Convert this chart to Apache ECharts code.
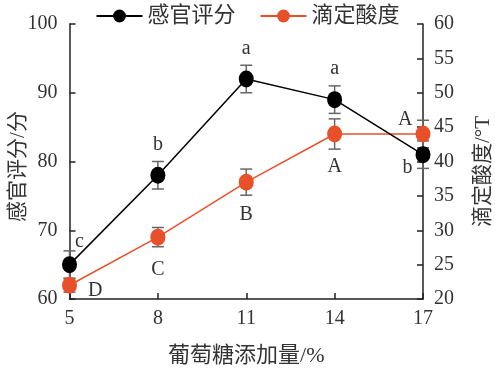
<!DOCTYPE html>
<html><head><meta charset="utf-8">
<script src="https://cdn.jsdelivr.net/npm/echarts@6/dist/echarts.min.js"></script>
<style>html,body{margin:0;padding:0;background:#fff}#c{width:495px;height:368px}</style>
</head><body><div id="c"></div>
<script>
const categories = [5, 8, 11, 14, 17];
const sensory = [65, 78, 92, 89, 81];
const sensoryErr = [2, 2, 2, 2, 2];
const sensoryLetters = ['c', 'b', 'a', 'a', 'b'];
const acidity = [22, 29, 37, 44, 44];
const acidityErr = [1, 1.4, 1.9, 2.2, 2];
const acidityLetters = ['D', 'C', 'B', 'A', 'A'];
const seriesNames = ['感官评分', '滴定酸度'];

const serif = '"Liberation Serif","Times New Roman",serif';
const cjk = '"Liberation Serif","Noto Sans CJK SC",serif';
const txt = '#333';
const orange = '#e8502a';

const sensoryLabelPos = [
  {position: 'top', offset: [10, 1]},
  {position: 'top', distance: 12},
  {position: 'top', distance: 12},
  {position: 'top', distance: 12},
  {position: 'left', offset: [2, 13]}
];
const acidityLabelPos = [
  {position: 'right', offset: [6, 5]},
  {position: 'bottom', distance: 14},
  {position: 'bottom', distance: 14},
  {position: 'bottom', distance: 14},
  {position: 'left', offset: [2, -14]}
];

function lineData(vals, letters, pos) {
  return vals.map((v, i) => ({
    value: [categories[i], v],
    label: Object.assign({show: true, formatter: letters[i]}, pos[i])
  }));
}
function errData(vals, errs) {
  return vals.map((v, i) => [categories[i], v - errs[i], v + errs[i]]);
}
function errRender(params, api) {
  const x = api.value(0);
  const lo = api.coord([x, api.value(1)]);
  const hi = api.coord([x, api.value(2)]);
  const w = 6;
  const st = {stroke: '#666', lineWidth: 1.5};
  return {type: 'group', children: [
    {type: 'line', shape: {x1: lo[0], y1: lo[1], x2: hi[0], y2: hi[1]}, style: st},
    {type: 'line', shape: {x1: lo[0]-w, y1: lo[1], x2: lo[0]+w, y2: lo[1]}, style: st},
    {type: 'line', shape: {x1: hi[0]-w, y1: hi[1], x2: hi[0]+w, y2: hi[1]}, style: st}
  ]};
}

const chart = echarts.init(document.getElementById('c'));
chart.setOption({
  animation: false,
  legend: {
    top: 0, left: 'center', itemWidth: 46, itemHeight: 16, itemGap: 24,
    textStyle: {fontFamily: cjk, fontSize: 22, color: txt},
    data: seriesNames
  },
  grid: {left: 69.5, right: 72, top: 24, bottom: 69, containLabel: false, outerBoundsMode: 'none'},
  xAxis: {
    type: 'value', min: 5, max: 17, interval: 3,
    name: '葡萄糖添加量/%', nameLocation: 'middle', nameGap: 46, nameMoveOverlap: false,
    nameTextStyle: {fontFamily: cjk, fontSize: 22, color: txt},
    axisLine: {lineStyle: {color: '#222', width: 1.5}},
    axisTick: {inside: true, length: 6, lineStyle: {color: '#222', width: 1.5}},
    axisLabel: {fontFamily: serif, fontSize: 20, color: txt, margin: 10},
    splitLine: {show: false}
  },
  yAxis: [{
    type: 'value', min: 60, max: 100, interval: 10,
    name: '感官评分/分', nameLocation: 'middle', nameGap: 41, nameMoveOverlap: false,
    nameTextStyle: {fontFamily: cjk, fontSize: 21, color: txt, padding: [0, 10, 0, 0]},
    axisLine: {show: true, lineStyle: {color: '#222', width: 1.5}},
    axisTick: {show: true, inside: true, length: 6, lineStyle: {color: '#222', width: 1.5}},
    axisLabel: {fontFamily: serif, fontSize: 20, color: txt, margin: 12},
    splitLine: {show: false}
  }, {
    type: 'value', min: 20, max: 60, interval: 5, position: 'right',
    name: '滴定酸度/°T', nameLocation: 'middle', nameGap: 50, nameRotate: 90, nameMoveOverlap: false,
    nameTextStyle: {fontFamily: cjk, fontSize: 21, color: txt, padding: [0, 20, 0, 0]},
    axisLine: {show: true, lineStyle: {color: '#222', width: 1.5}},
    axisTick: {show: true, inside: true, length: 6, lineStyle: {color: '#222', width: 1.5}},
    axisLabel: {fontFamily: serif, fontSize: 20, color: txt, margin: 11},
    splitLine: {show: false}
  }],
  series: [{
    name: seriesNames[0], type: 'line', yAxisIndex: 0, z: 5,
    symbol: 'circle', symbolSize: [15, 17],
    itemStyle: {color: '#000'}, lineStyle: {color: '#000', width: 1.5},
    label: {fontFamily: serif, fontSize: 20, color: txt},
    data: lineData(sensory, sensoryLetters, sensoryLabelPos)
  }, {
    name: seriesNames[1], type: 'line', yAxisIndex: 1, z: 4,
    symbol: 'circle', symbolSize: [15, 17],
    itemStyle: {color: orange}, lineStyle: {color: orange, width: 1.5},
    label: {fontFamily: serif, fontSize: 20, color: txt},
    data: lineData(acidity, acidityLetters, acidityLabelPos)
  }, {
    type: 'custom', yAxisIndex: 0, z: 2, renderItem: errRender,
    encode: {x: 0, y: [1, 2]}, data: errData(sensory, sensoryErr)
  }, {
    type: 'custom', yAxisIndex: 1, z: 2, renderItem: errRender,
    encode: {x: 0, y: [1, 2]}, data: errData(acidity, acidityErr)
  }]
});
</script></body></html>
